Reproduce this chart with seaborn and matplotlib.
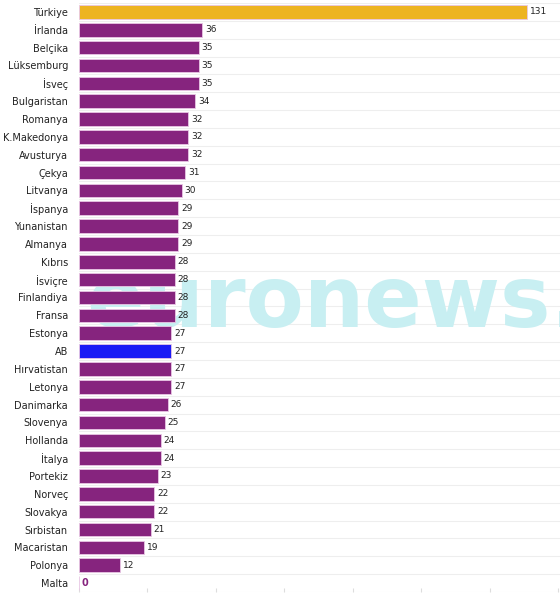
import matplotlib
matplotlib.use("Agg")
import matplotlib.pyplot as plt
import seaborn as sns
import pandas as pd

countries = ["Türkiye", "İrlanda", "Belçika", "Lüksemburg", "İsveç", "Bulgaristan",
             "Romanya", "K.Makedonya", "Avusturya", "Çekya", "Litvanya", "İspanya",
             "Yunanistan", "Almanya", "Kıbrıs", "İsviçre", "Finlandiya", "Fransa",
             "Estonya", "AB", "Hırvatistan", "Letonya", "Danimarka", "Slovenya",
             "Hollanda", "İtalya", "Portekiz", "Norveç", "Slovakya", "Sırbistan",
             "Macaristan", "Polonya", "Malta"]
values = [131, 36, 35, 35, 35, 34, 32, 32, 32, 31, 30, 29, 29, 29, 28, 28, 28, 28,
          27, 27, 27, 27, 26, 25, 24, 24, 23, 22, 22, 21, 19, 12, 0]

PURPLE = "#86247e"
GOLD = "#edb421"
BLUE = "#1b1bf5"
colors = [GOLD if c == "Türkiye" else BLUE if c == "AB" else PURPLE for c in countries]

df = pd.DataFrame({"country": countries, "value": values})

sns.set_style("white")
fig = plt.figure(figsize=(5.6, 5.95), dpi=100)
ax = fig.add_axes([79/560, 3/595, 1 - 79/560, 589/595])

sns.barplot(data=df, y="country", x="value", hue="country", palette=colors,
            legend=False, ax=ax, width=0.76, orient="h", saturation=1,
            edgecolor="#e8c6e4", linewidth=0.6)
for p in ax.patches:
    p.set_zorder(3)

# watermark
ax.text(0.015, 0.49, "euronews.", transform=ax.transAxes, fontsize=61,
        color="#c8eff2", ha="left", va="center", zorder=0.5,
        fontweight="bold", family="DejaVu Sans")

n = len(countries)
for i in range(n + 1):
    ax.axhline(i - 0.5, color="#eeeeee", lw=0.8, zorder=0.2)

for i, v in enumerate(values):
    if v == 0:
        ax.text(v + 0.6, i, "0", va="center", ha="left", fontsize=7,
                color=PURPLE, fontweight="bold", zorder=4)
    else:
        ax.text(v + 0.8, i, str(v), va="center", ha="left", fontsize=6.5,
                color="#222222", zorder=4)

ax.set_xlim(0, 140.6)
ax.set_ylim(n - 0.5, -0.5)
ax.set_xlabel("")
ax.set_ylabel("")
ax.set_xticks(range(0, 141, 20))
ax.set_xticklabels([])
ax.tick_params(axis="x", length=3, color="#dddddd", bottom=True, direction="in")
ax.tick_params(axis="y", length=0, labelsize=7, pad=8, labelcolor="#222222")
for s in ["top", "right", "left", "bottom"]:
    ax.spines[s].set_visible(False)

fig.savefig("out.png", dpi=100)
